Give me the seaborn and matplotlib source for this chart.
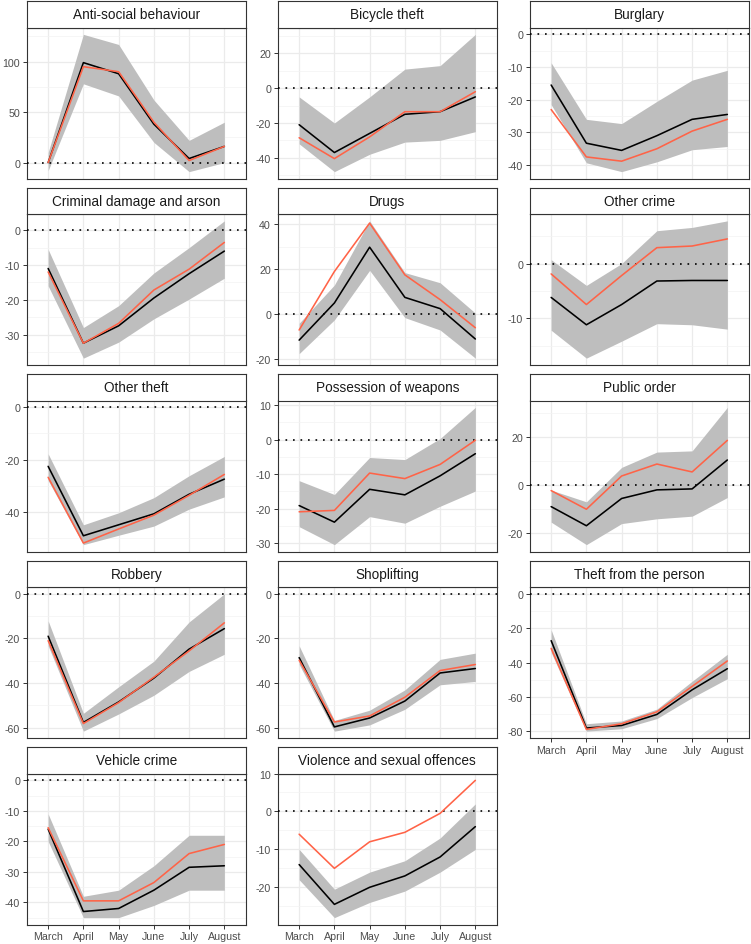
import numpy as np
import pandas as pd
import seaborn as sns
import matplotlib.pyplot as plt

# facet grid of monthly % change by crime type, model estimate (black + ribbon) vs observed (red)

months = ["March", "April", "May", "June", "July", "August"]

crimes = ["Anti-social behaviour", "Bicycle theft", "Burglary",
          "Criminal damage and arson", "Drugs", "Other crime",
          "Other theft", "Possession of weapons", "Public order",
          "Robbery", "Shoplifting", "Theft from the person",
          "Vehicle crime", "Violence and sexual offences"]

estimate = [
    [0, 99, 88, 38, 4, 16],
    [-21, -37, -26, -15, -13.5, -5],
    [-15.5, -33.3, -35.5, -31, -26, -24.5],
    [-11, -32.5, -27.5, -19.5, -12.5, -6],
    [-11.5, 5, 29.8, 7.5, 2.5, -11],
    [-6.2, -11.2, -7.5, -3.2, -3.1, -3.1],
    [-22.6, -49.2, -45, -40.8, -33.3, -27.5],
    [-19.1, -23.9, -14.4, -16, -10.5, -4.1],
    [-9.1, -17.1, -5.7, -2.1, -1.7, 10.4],
    [-19, -57.7, -48.5, -37.8, -24.8, -15.6],
    [-28.6, -59.7, -55.7, -48.1, -35.5, -33.5],
    [-27.2, -78, -76.5, -70.1, -55.8, -43.5],
    [-16, -43, -42, -36, -28.5, -28],
    [-14, -24.5, -20, -17, -12, -4],
]

observed = [
    [0, 95, 90, 40, 2, 16],
    [-28.5, -40.5, -28, -13.5, -13.5, -2],
    [-23, -37.5, -38.8, -35, -29.6, -26],
    [-12, -32.5, -26.8, -17.2, -11.2, -3.5],
    [-7, 19, 40.5, 17.5, 6.5, -6],
    [-1.9, -7.5, -2.2, 2.9, 3.2, 4.5],
    [-26.8, -52, -46.6, -41.3, -33.7, -25.7],
    [-20.9, -20.5, -9.7, -11.3, -7.2, -0.2],
    [-2.4, -10.2, 3.7, 8.7, 5.4, 18.6],
    [-21, -58.2, -48.8, -37.4, -25.6, -13],
    [-29.8, -57.5, -54.8, -46.4, -34.4, -31.7],
    [-31.7, -78.8, -75.5, -68.6, -53.8, -39],
    [-15.5, -39.5, -39.5, -33.5, -24, -21],
    [-6, -15, -8, -5.5, -0.5, 8.2],
]

ci_low = [
    [-8, 78, 66, 20, -9, 0],
    [-32, -48, -38, -31, -30, -25],
    [-21.5, -39.3, -42, -39, -35.3, -34.3],
    [-16, -36.8, -32.2, -25.5, -19.8, -13.8],
    [-17.5, -2.5, 19.5, -1.5, -7, -19.5],
    [-12.2, -17.3, -14.2, -11, -11.2, -12],
    [-28, -52.6, -49, -45.5, -39, -34.3],
    [-25.2, -30.4, -22.3, -24.2, -19.3, -14.9],
    [-15.6, -25, -16.2, -14.2, -13.1, -5.3],
    [-23.3, -61.6, -53.9, -45.5, -34.8, -27.1],
    [-31.7, -61.6, -58.8, -51.8, -40.8, -39.3],
    [-34, -79.8, -78.4, -72.5, -60.3, -49.3],
    [-20, -45, -45, -41, -36, -36],
    [-18, -28, -24, -21, -16, -10],
]

ci_high = [
    [10, 127, 117, 62, 22, 40],
    [-5, -20, -5, 11, 13, 31],
    [-8.7, -26, -27.3, -20.5, -14, -11],
    [-5.5, -28, -21.7, -12.3, -5, 2.7],
    [-4, 13, 41.5, 18.5, 14, 0.5],
    [0.7, -4.0, 0, 6, 6.6, 7.8],
    [-17.8, -45, -40.4, -34.6, -26.2, -18.8],
    [-11.9, -15.9, -5.2, -5.8, 0.3, 9.3],
    [-2.2, -7.1, 7.3, 13.7, 14.2, 32.4],
    [-12.1, -53.6, -41.7, -30.2, -12.6, 0],
    [-23.3, -56.8, -52.2, -43.1, -29.4, -26.6],
    [-20.9, -75.5, -73.9, -67, -50.8, -35.1],
    [-11, -38, -36, -28, -18, -18],
    [-10, -20.5, -16, -13, -7, 2],
]

yticks = [
    [0, 50, 100],
    [-40, -20, 0, 20],
    [-40, -30, -20, -10, 0],
    [-30, -20, -10, 0],
    [-20, 0, 20, 40],
    [-10, 0],
    [-40, -20, 0],
    [-30, -20, -10, 0, 10],
    [-20, 0, 20],
    [-60, -40, -20, 0],
    [-60, -40, -20, 0],
    [-80, -60, -40, -20, 0],
    [-40, -30, -20, -10, 0],
    [-20, -10, 0, 10],
]

sns.set_theme(style="whitegrid")
plt.rcParams['font.family'] = ['Liberation Sans', 'DejaVu Sans']

W, H = 751, 945
fig = plt.figure(figsize=(W / 100, H / 100), dpi=100)
fig.patch.set_facecolor("white")

col_left = [27, 278, 530]
row_top = [2, 188.5, 375, 561.5, 748]
panel_w, panel_h, strip_h = 218.5, 151, 26.5
x = np.arange(len(months))

for i, crime in enumerate(crimes):
    r, c = divmod(i, 3)
    left = col_left[c] / W
    bottom = 1 - (row_top[r] + strip_h + panel_h) / H
    ax = fig.add_axes([left, bottom, panel_w / W, panel_h / H])

    df = pd.DataFrame({
        "m": np.concatenate([x, x]),
        "value": estimate[i] + observed[i],
        "series": ["estimate"] * 6 + ["observed"] * 6,
    })
    ax.fill_between(x, ci_low[i], ci_high[i], color="#bebebe", lw=0, zorder=2)
    ax.axhline(0, color="black", lw=1.2, ls=(0, (1, 3.5)), zorder=3)
    sns.lineplot(data=df, x="m", y="value", hue="series",
                 hue_order=["estimate", "observed"],
                 palette={"estimate": "black", "observed": "tomato"},
                 linewidth=1.15, legend=False, ax=ax, zorder=4)

    vals = estimate[i] + observed[i] + ci_low[i] + ci_high[i] + [0]
    lo, hi = min(vals), max(vals)
    pad = 0.05 * (hi - lo)
    ax.set_ylim(lo - pad, hi + pad)
    ax.set_xlim(-0.6, 5.6)

    ticks = yticks[i]
    step = ticks[1] - ticks[0]
    minor = [t - step / 2 for t in ticks] + [ticks[-1] + step / 2]
    minor = [m for m in minor if lo - pad < m < hi + pad]
    ax.set_yticks(ticks)
    ax.set_yticks(minor, minor=True)
    ax.set_yticklabels([f"{t:g}" for t in ticks])
    ax.set_xticks(x)

    ax.set_xlabel("")
    ax.set_ylabel("")
    ax.set_facecolor("white")
    ax.set_axisbelow(True)
    ax.grid(which="major", color="#ebebeb", lw=0.9)
    ax.grid(which="minor", axis="y", color="#f3f3f3", lw=0.5)
    for s in ax.spines.values():
        s.set_color("#333333")
        s.set_linewidth(0.8)

    ax.tick_params(axis="y", which="major", length=3, width=0.7, color="#333333",
                   labelsize=7.7, labelcolor="#4d4d4d", pad=2, left=True)
    ax.tick_params(axis="y", which="minor", length=0)
    if i + 3 >= len(crimes):
        ax.set_xticklabels(months)
        ax.tick_params(axis="x", length=3, width=0.7, color="#333333",
                       labelsize=7.7, labelcolor="#4d4d4d", pad=2, bottom=True)
    else:
        ax.set_xticklabels([])
        ax.tick_params(axis="x", length=0, labelbottom=False)

    sax = fig.add_axes([left, 1 - (row_top[r] + strip_h) / H, panel_w / W, strip_h / H])
    sax.set_facecolor("white")
    sax.set_xticks([])
    sax.set_yticks([])
    sax.grid(False)
    for s in sax.spines.values():
        s.set_color("#333333")
        s.set_linewidth(0.8)
    sax.text(0.5, 0.5, crime, ha="center", va="center", fontsize=9.8,
             color="#1a1a1a", transform=sax.transAxes)

fig.savefig("out.png", dpi=100, facecolor="white")
